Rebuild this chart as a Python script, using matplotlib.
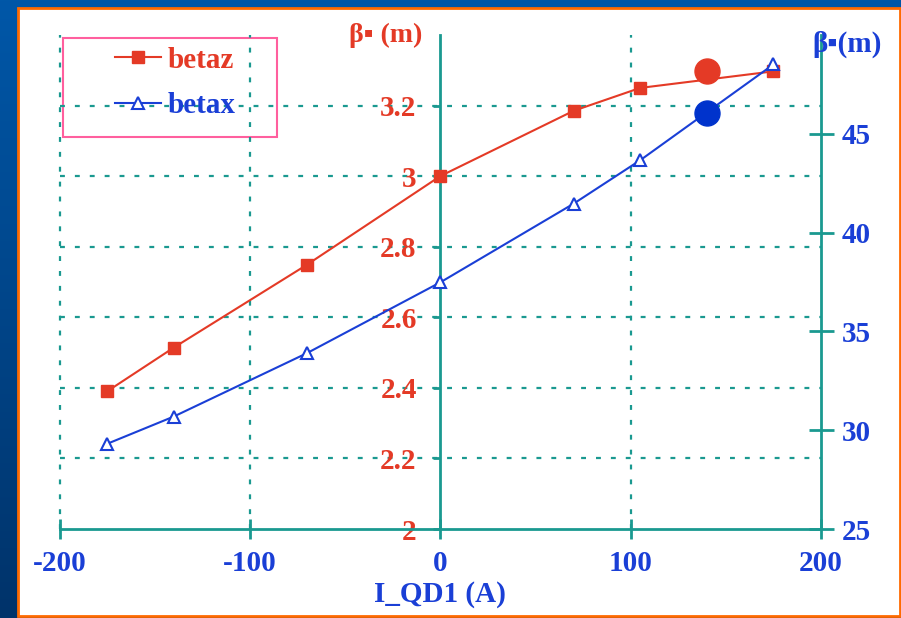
import numpy as np
import matplotlib
matplotlib.use("Agg")
from matplotlib import pyplot as plt
from matplotlib.patches import Rectangle
from matplotlib.lines import Line2D
from matplotlib.ticker import FixedLocator, FixedFormatter

plt.rcParams['font.family'] = ['Liberation Serif', 'DejaVu Sans']
plt.rcParams['font.weight'] = 'bold'

# courant du quadrupole QD1 (A)
i_qd1 = [-175, -140, -70, 0, 70, 105, 175]
betaz = [2.39, 2.514, 2.749, 3.0, 3.185, 3.25, 3.297]
betax = [29.31, 30.69, 33.9, 37.48, 41.46, 43.66, 48.51]

# points de fonctionnement
op_x = [140]
op_betaz = [3.297]
op_betax = [46.06]

xticks = [-200, -100, 0, 100, 200]
xtick_labels = ['-200', '-100', '0', '100', '200']
zticks = [2, 2.2, 2.4, 2.6, 2.8, 3, 3.2]
ztick_labels = ['2', '2.2', '2.4', '2.6', '2.8', '3', '3.2']
bxticks = [25, 30, 35, 40, 45]
bxtick_labels = ['25', '30', '35', '40', '45']

RED = '#e43a26'
BLUE = '#1a3fd6'
DBLUE = '#0033cc'
TEAL = '#1a9990'
PINK = '#ff5f9e'
ORANGE = '#ff6a00'
GRID_LS = (0, (2.2, 4.5))

W, H = 901, 618
fig = plt.figure(figsize=(W / 100, H / 100), dpi=100)

# fond bleu (degrade) + panneau blanc
bg = fig.add_axes([0, 0, 1, 1])
bg.set_xlim(0, W)
bg.set_ylim(H, 0)
bg.axis('off')
grad = np.linspace(0, 1, 256).reshape(-1, 1)
cm = matplotlib.colors.LinearSegmentedColormap.from_list('bg', ['#0057a8', '#00336a'])
bg.imshow(grad, extent=[0, W, H, 0], aspect='auto', cmap=cm)
bg.add_patch(Rectangle((18, 8), 882, 608, facecolor='white', edgecolor=ORANGE, lw=2))

# axes
ax = fig.add_axes([59.5 / W, 1 - 529 / H, (821 - 59.5) / W, (529 - 35) / H])
ax.patch.set_alpha(0)
ax.set_xlim(-200, 200)
ax.set_ylim(2, 3.4)

for s in ['top', 'right']:
    ax.spines[s].set_visible(False)
ax.spines['left'].set_position(('data', 0))
ax.spines['left'].set_color(TEAL)
ax.spines['left'].set_linewidth(2)
ax.spines['bottom'].set_color(TEAL)
ax.spines['bottom'].set_linewidth(2)

ax.xaxis.set_major_locator(FixedLocator(xticks))
ax.xaxis.set_major_formatter(FixedFormatter(xtick_labels))
ax.yaxis.set_major_locator(FixedLocator(zticks))
ax.yaxis.set_major_formatter(FixedFormatter(ztick_labels))
ax.tick_params(axis='x', direction='inout', length=14, width=2, color=TEAL,
               labelcolor=BLUE, labelsize=21, pad=8)
ax.tick_params(axis='y', direction='out', length=5, width=2, color=TEAL,
               labelcolor=RED, labelsize=21, pad=12)

# grille pointillee
for yv in zticks[1:]:
    ax.axhline(yv, color=TEAL, lw=1.6, linestyle=GRID_LS, zorder=0.5, clip_on=False)
for xv in [-200, -100, 100]:
    ax.axvline(xv, color=TEAL, lw=1.6, linestyle=GRID_LS, zorder=0.5, clip_on=False)

ax.plot(i_qd1, betaz, color=RED, lw=1.5, marker='s', ms=9, mec=RED, mfc=RED, zorder=3)
ax.plot(op_x, op_betaz, 'o', color=RED, ms=18, zorder=4)

ax.set_xlabel('I_QD1 (A)', color=BLUE, fontsize=21, fontweight='bold', labelpad=3)

ax2 = ax.twinx()
ax2.set_ylim(25, 50)
for s in ['top', 'left', 'bottom']:
    ax2.spines[s].set_visible(False)
ax2.spines['right'].set_color(TEAL)
ax2.spines['right'].set_linewidth(2)
ax2.yaxis.set_major_locator(FixedLocator(bxticks))
ax2.yaxis.set_major_formatter(FixedFormatter(bxtick_labels))
ax2.tick_params(axis='y', direction='inout', length=18, width=2, color=TEAL,
                labelcolor=BLUE, labelsize=21, pad=6)

ax2.plot(i_qd1, betax, color=BLUE, lw=1.5, marker='^', ms=8, mfc='white', mec=BLUE,
         mew=1.5, zorder=3)
ax2.plot(op_x, op_betax, 'o', color=DBLUE, ms=18, zorder=4)

# titres des axes
fig.text(422 / W, 1 - 35 / H, 'β▪ (m)', color=RED, fontsize=20, ha='right', va='center')
fig.text(812 / W, 1 - 44 / H, 'β▪(m)', color=BLUE, fontsize=21, ha='left', va='center')

# legende
bg.add_patch(Rectangle((63, 38), 214, 99, facecolor='white', edgecolor=PINK, lw=1.5, zorder=5))
handles = [Line2D([], [], color=RED, lw=1.5, marker='s', ms=9),
           Line2D([], [], color=BLUE, lw=1.5, marker='^', ms=8, mfc='white', mew=1.5)]
leg = fig.legend(handles, ['betaz', 'betax'], loc='center', bbox_to_anchor=(175 / W, 1 - 83 / H),
                 frameon=False, fontsize=21, handlelength=1.6, handletextpad=0.2,
                 labelspacing=0.65)
for t, c in zip(leg.get_texts(), [RED, BLUE]):
    t.set_color(c)

fig.savefig('out.png', dpi=100)
